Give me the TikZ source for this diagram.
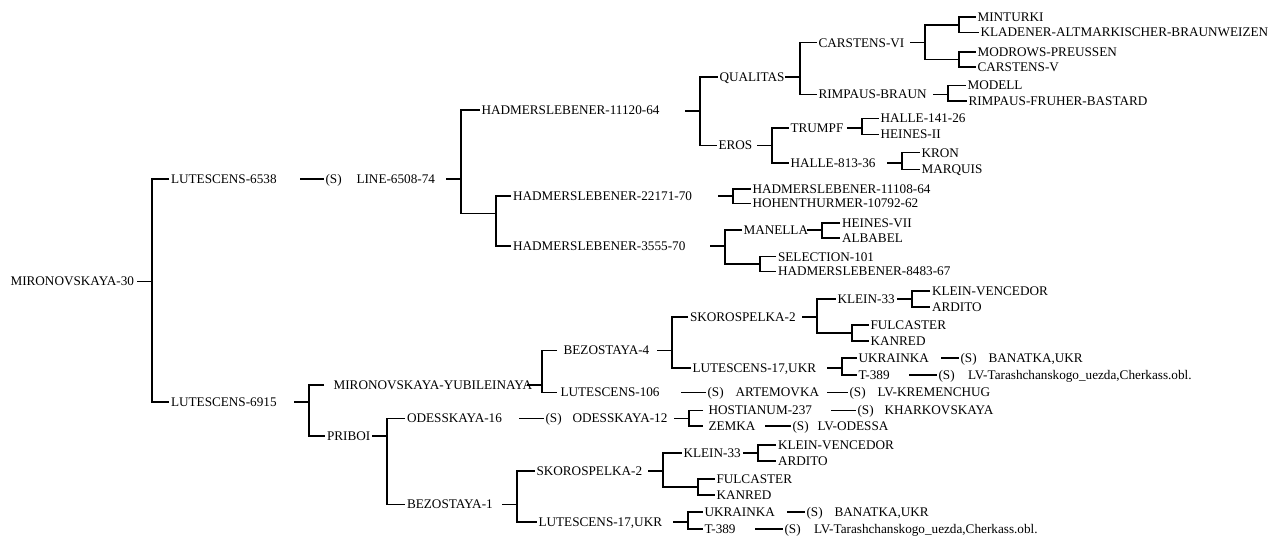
\documentclass[tikz,border=0pt]{standalone}
\usepackage{fontspec}
\setmainfont{Liberation Serif}
\usepackage{tikz}
\usetikzlibrary{calc}
\tikzset{
  every picture/.style={line width=0.85pt},
  sname/.style={anchor=west, inner xsep=1.1pt, inner ysep=0pt,
                text height=6.5pt, text depth=0pt, font=\fontsize{9.9}{11}\selectfont},
  slead/.style={sname, inner xsep=#1*0.75pt},  % tick stops short of the text
}

\begin{document}
\begin{tikzpicture}[x=0.75pt, y=-0.75pt]
  \useasboundingbox (0,0) rectangle (1272,538);
  % root
  \node[sname] (mir30) at (8.5,281.5) {MIRONOVSKAYA-30};
  \coordinate (k0) at (152,281.5);
  \node[sname] (lut6538) at (169,179) {LUTESCENS-6538};
  \node[sname] (lut6915) at (169,402) {LUTESCENS-6915};
  \draw (k0) -- ++(-15,0);
  \draw (lut6538) -| (k0) |- (lut6915);
  % upper branch
  \node[sname] (s6538) at (323.5,179) {(S)};
  \node[sname] (line) at (354.5,179) {LINE-6508-74};
  \draw (s6538) -- ++(-34,0);
  \coordinate (kline) at (461,179);
  \node[sname] (had11120) at (479.5,110) {HADMERSLEBENER-11120-64};
  \coordinate (ua) at (496,213.5);
  \draw (kline) -- ++(-15,0);
  \draw (had11120) -| (kline) |- (ua);
  \coordinate (kh11120) at (700,111);
  \node[sname] (qual) at (717.5,77) {QUALITAS};
  \node[sname] (eros) at (716.5,145.5) {EROS};
  \draw (kh11120) -- ++(-15,0);
  \draw (qual) -| (kh11120) |- (eros);
  \coordinate (kqual) at (800,77);
  \node[sname] (carsvi) at (816.5,42.7) {CARSTENS-VI};
  \node[sname] (rimp) at (816.5,94.3) {RIMPAUS-BRAUN};
  \draw (kqual) -- ++(-15,0);
  \draw (carsvi) -| (kqual) |- (rimp);
  \coordinate (kcars) at (925,42.7);
  \coordinate (uc1) at (959,25);
  \coordinate (uc2) at (959,59.5);
  \draw (kcars) -- ++(-15,0);
  \draw (uc1) -| (kcars) |- (uc2);
  \node[sname] (mint) at (975.5,17) {MINTURKI};
  \node[sname] (klad) at (978.5,32.3) {KLADENER-ALTMARKISCHER-BRAUNWEIZEN};
  \draw (mint) -| (uc1) |- (klad);
  \node[sname] (modr) at (975.5,52) {MODROWS-PREUSSEN};
  \node[sname] (carsv) at (975.5,67) {CARSTENS-V};
  \draw (modr) -| (uc2) |- (carsv);
  \coordinate (krimp) at (948,94.3);
  \node[sname] (modell) at (965.5,85.5) {MODELL};
  \node[sname] (rfb) at (966.5,101) {RIMPAUS-FRUHER-BASTARD};
  \draw (krimp) -- ++(-15,0);
  \draw (modell) -| (krimp) |- (rfb);
  \coordinate (keros) at (772,145.5);
  \node[sname] (trumpf) at (788.5,128) {TRUMPF};
  \node[sname] (h813) at (788.5,163) {HALLE-813-36};
  \draw (keros) -- ++(-15,0);
  \draw (trumpf) -| (keros) |- (h813);
  \coordinate (ktrumpf) at (862,128);
  \node[sname] (h141) at (878.5,118.3) {HALLE-141-26};
  \node[sname] (hein2) at (878.5,134.5) {HEINES-II};
  \draw (ktrumpf) -- ++(-15,0);
  \draw (h141) -| (ktrumpf) |- (hein2);
  \coordinate (kh813) at (902,163);
  \node[sname] (kron) at (919.5,152.7) {KRON};
  \node[sname] (marq) at (919.5,169.3) {MARQUIS};
  \draw (kh813) -- ++(-15,0);
  \draw (kron) -| (kh813) |- (marq);
  \node[sname] (had22171) at (511,196) {HADMERSLEBENER-22171-70};
  \node[sname] (had3555) at (511,246) {HADMERSLEBENER-3555-70};
  \draw (had22171) -| (ua) |- (had3555);
  \coordinate (kh22171) at (733,196);
  \node[sname] (had11108) at (750.5,189) {HADMERSLEBENER-11108-64};
  \node[sname] (hoh) at (750.5,203.3) {HOHENTHURMER-10792-62};
  \draw (kh22171) -- ++(-15,0);
  \draw (had11108) -| (kh22171) |- (hoh);
  \coordinate (kh3555) at (725,246);
  \node[sname] (man) at (741.5,230) {MANELLA};
  \coordinate (ub) at (760,264);
  \draw (kh3555) -- ++(-15,0);
  \draw (man) -| (kh3555) |- (ub);
  \coordinate (kman) at (822,230);
  \node[sname] (hein7) at (840,223) {HEINES-VII};
  \node[sname] (alb) at (840,238) {ALBABEL};
  \draw (kman) -- ++(-15,0);
  \draw (hein7) -| (kman) |- (alb);
  \node[sname] (sel101) at (776,256.7) {SELECTION-101};
  \node[sname] (had8483) at (776,271.5) {HADMERSLEBENER-8483-67};
  \draw (sel101) -| (ub) |- (had8483);
  % lower branch
  \coordinate (k6915) at (309,402);
  \node[slead=9] (yub) at (324,385) {MIRONOVSKAYA-YUBILEINAYA};
  \node[sname] (priboi) at (325,436) {PRIBOI};
  \draw (k6915) -- ++(-15,0);
  \draw (yub) -| (k6915) |- (priboi);
  \coordinate (kyub) at (542,385);
  \node[slead=6] (bez4) at (557,350.5) {BEZOSTAYA-4};
  \node[slead=3] (lut106) at (557,392.5) {LUTESCENS-106};
  \draw (kyub) -- ++(-15,0);
  \draw (bez4) -| (kyub) |- (lut106);
  \coordinate (kbez4) at (672,350.5);
  \node[sname] (skor4) at (688,317) {SKOROSPELKA-2};
  \node[sname] (lut17a) at (690.5,368) {LUTESCENS-17,UKR};
  \draw (kbez4) -- ++(-15,0);
  \draw (skor4) -| (kbez4) |- (lut17a);
  \coordinate (kskor4) at (817,317);
  \node[sname] (klein4) at (835.5,299) {KLEIN-33};
  \coordinate (ud) at (852,333);
  \draw (kskor4) -- ++(-15,0);
  \draw (klein4) -| (kskor4) |- (ud);
  \coordinate (kklein4) at (912,299);
  \node[sname] (kv4) at (930,291) {KLEIN-VENCEDOR};
  \node[sname] (ard4) at (930,307) {ARDITO};
  \draw (kklein4) -- ++(-15,0);
  \draw (kv4) -| (kklein4) |- (ard4);
  \node[sname] (ful4) at (868.5,325) {FULCASTER};
  \node[sname] (kan4) at (868.5,341) {KANRED};
  \draw (ful4) -| (ud) |- (kan4);
  \coordinate (klut17a) at (842,368);
  \node[sname] (ukr4) at (856.5,358) {UKRAINKA};
  \node[sname] (t3894) at (856.5,375) {T-389};
  \draw (klut17a) -- ++(-15,0);
  \draw (ukr4) -| (klut17a) |- (t3894);
  \node[sname] (sukr4) at (958.5,358) {(S)};
  \node[sname] (ban4) at (986.5,358) {BANATKA,UKR};
  \draw (sukr4) -- ++(-28,0);
  \node[sname] (st3894) at (936.5,375) {(S)};
  \node[sname] (lvt4) at (966,375) {LV-Tarashchanskogo\_uezda,Cherkass.obl.};
  \draw (st3894) -- ++(-38,0);
  \node[sname] (slut106) at (705.5,392.5) {(S)};
  \node[sname] (artem) at (733.5,392.5) {ARTEMOVKA};
  \draw (slut106) -- ++(-35,0);
  \node[sname] (sartem) at (847.5,392.5) {(S)};
  \node[sname] (krem) at (875.5,392.5) {LV-KREMENCHUG};
  \draw (sartem) -- ++(-31,0);
  \coordinate (kpriboi) at (387,436);
  \node[sname] (od16) at (405,418.5) {ODESSKAYA-16};
  \node[sname] (bez1) at (405,504.5) {BEZOSTAYA-1};
  \draw (kpriboi) -- ++(-15,0);
  \draw (od16) -| (kpriboi) |- (bez1);
  \node[sname] (sod16) at (543.5,418.5) {(S)};
  \node[sname] (od12) at (570.5,418.5) {ODESSKAYA-12};
  \draw (sod16) -- ++(-35,0);
  \coordinate (kod12) at (689,418.5);
  \node[slead=5] (host) at (703,410.5) {HOSTIANUM-237};
  \node[slead=5] (zemka) at (703,426) {ZEMKA};
  \draw (kod12) -- ++(-15,0);
  \draw (host) -| (kod12) |- (zemka);
  \node[sname] (shost) at (855.5,410.5) {(S)};
  \node[sname] (khark) at (882.5,410.5) {KHARKOVSKAYA};
  \draw (shost) -- ++(-35,0);
  \node[sname] (szemka) at (790.5,426) {(S)};
  \node[sname] (lvod) at (815.5,426) {LV-ODESSA};
  \draw (szemka) -- ++(-36,0);
  \coordinate (kbez1) at (517,504.5);
  \node[sname] (skor1) at (534.5,471) {SKOROSPELKA-2};
  \node[sname] (lut17b) at (536.5,522) {LUTESCENS-17,UKR};
  \draw (kbez1) -- ++(-15,0);
  \draw (skor1) -| (kbez1) |- (lut17b);
  \coordinate (kskor1) at (663,471);
  \node[sname] (klein1) at (681.5,453) {KLEIN-33};
  \coordinate (ue) at (698,487);
  \draw (kskor1) -- ++(-15,0);
  \draw (klein1) -| (kskor1) |- (ue);
  \coordinate (kklein1) at (758,453);
  \node[sname] (kv1) at (776,445) {KLEIN-VENCEDOR};
  \node[sname] (ard1) at (776,461) {ARDITO};
  \draw (kklein1) -- ++(-15,0);
  \draw (kv1) -| (kklein1) |- (ard1);
  \node[sname] (ful1) at (714.5,479) {FULCASTER};
  \node[sname] (kan1) at (714.5,495) {KANRED};
  \draw (ful1) -| (ue) |- (kan1);
  \coordinate (klut17b) at (688,522);
  \node[sname] (ukr1) at (702.5,512) {UKRAINKA};
  \node[sname] (t3891) at (702.5,529) {T-389};
  \draw (klut17b) -- ++(-15,0);
  \draw (ukr1) -| (klut17b) |- (t3891);
  \node[sname] (sukr1) at (804.5,512) {(S)};
  \node[sname] (ban1) at (832.5,512) {BANATKA,UKR};
  \draw (sukr1) -- ++(-28,0);
  \node[sname] (st3891) at (782.5,529) {(S)};
  \node[sname] (lvt1) at (812,529) {LV-Tarashchanskogo\_uezda,Cherkass.obl.};
  \draw (st3891) -- ++(-38,0);
\end{tikzpicture}
\end{document}
